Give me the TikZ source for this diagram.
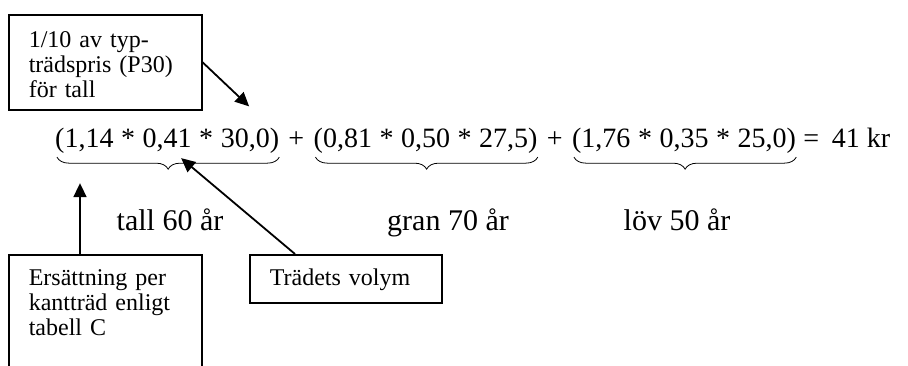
\documentclass[tikz,border=0pt]{standalone}
\usepackage{fontspec}
\setmainfont{Liberation Serif}
\usetikzlibrary{arrows.meta, positioning, decorations.pathreplacing, calc}

\newcommand{\tms}{\hspace{0.27em}*\hspace{0.27em}}

\begin{document}
\begin{tikzpicture}[
    x=1pt, y=-1pt,
    node distance=9pt,
    box/.style={draw, line width=1.6pt, anchor=north west, inner xsep=20pt,
                inner ysep=0pt, align=left, font=\fontsize{24}{25}\selectfont},
    term/.style={inner sep=0pt, font=\fontsize{28}{32}\selectfont},
    age/.style={inner sep=0pt, anchor=base, font=\fontsize{30}{34}\selectfont},
    arr/.style={-{Triangle[length=14pt, width=13pt]}, line width=1.8pt},
    brc/.style={decorate, decoration={brace, mirror, amplitude=12pt}, line width=0.8pt},
  ]
  \useasboundingbox (0,0) rectangle (908,365);
  % the sum
  \node[term, anchor=base west] (g1) at (55,147) {(1,14\tms 0,41\tms 30,0)};
  \node[term, base right=of g1] (p1) {+};
  \node[term, base right=of p1] (g2) {(0,81\tms 0,50\tms 27,5)};
  \node[term, base right=of g2] (p2) {+};
  \node[term, base right=of p2] (g3) {(1,76\tms 0,35\tms 25,0)};
  \node[term, base right=7pt of g3] (res) {=\hspace{0.45em}41 kr};
  \draw[brc] ($(g1.south west)+(2,4)$) -- ($(g1.south east)+(0,4)$);
  \draw[brc] ($(g2.south west)+(2,4)$) -- ($(g2.south east)+(0,4)$);
  \draw[brc] ($(g3.south west)+(2,4)$) -- ($(g3.south east)+(0,4)$);
  % species and age
  \node[age] (tall) at (170,230) {tall 60 år};
  \node[age] (gran) at (448,230) {gran 70 år};
  \node[age] (lov) at (677,230) {löv 50 år};
  % explanations
  \node[box, text width=153pt, text height=33pt, text depth=62pt] (price) at (8,14)
    {1/10 av typ-\\trädspris (P30)\\för tall};
  \node[box, text width=153pt, text height=31pt, text depth=112pt] (comp) at (8,254)
    {Ersättning per\\kantträd enligt\\tabell C};
  \node[box, text width=152pt, text height=31pt, text depth=17pt] (vol) at (249,254)
    {Trädets volym};
  \coordinate (priceend) at ($(g1.north)+(82,-21)$);
  \coordinate (volend) at ($(g1.south)+(14,5)$);
  \coordinate (compend) at ($(g1.south west)+(25,30)$);
  \draw[arr] (price.east) -- (priceend);
  \draw[arr] ([xshift=46pt]vol.north west) -- (volend);
  \draw[arr] (compend |- comp.north) -- (compend);
\end{tikzpicture}
\end{document}
